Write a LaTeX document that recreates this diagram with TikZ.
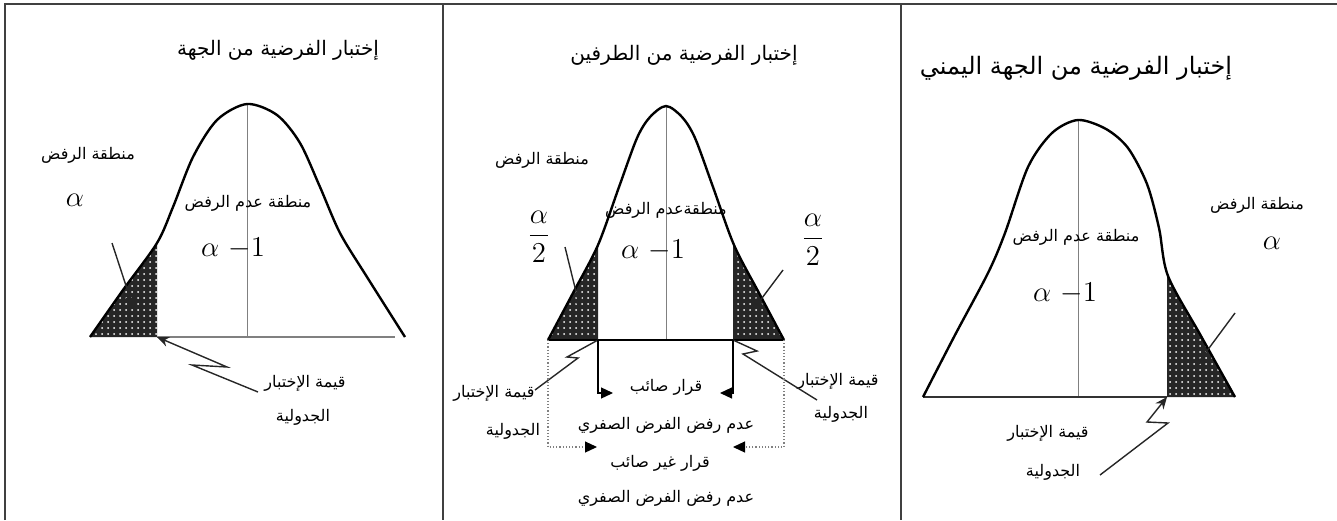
\documentclass[tikz,border=0pt]{standalone}
\usepackage{fontspec}
\newfontfamily\arabicfont[Script=Arabic]{DejaVu Sans}
\TeXXeTstate=1
\usetikzlibrary{patterns,arrows.meta}
\newcommand{\artxt}[1]{{\arabicfont\beginR #1\endR}}

\tikzset{
  frame/.style={line width=0.8pt,black!75},
  curve/.style={line width=1.2pt},
  midline/.style={gray,line width=0.4pt},
  tailfill/.style={fill=black!85},
  tailtex/.style={pattern=dots,pattern color=white},
  lbl/.style={font=\fontsize{8}{10}\selectfont},
  ttl/.style={font=\fontsize{10}{12}\selectfont},
  mth/.style={font=\fontsize{14}{16}\selectfont},
  call/.style={line width=0.7pt,black!85},
  tip/.style={-{Stealth[length=6pt,width=5pt]}},
  brk/.style={line width=0.6pt,-{Triangle[length=6pt,width=5.5pt]}},
  dotbrk/.style={gray,densely dotted,line width=0.6pt,-{Triangle[length=6pt,width=5.5pt,color=black]}},
}

% the three bell curves, in pixel coordinates
\def\bellA{plot[smooth] coordinates {(90,337) (123,290) (157,243) (173,207) (193,157) (217,120) (247,104) (277,115) (300,143) (320,187) (340,233) (367,277) (405,337)}}
\def\bellB{plot[smooth] coordinates {(548,340) (573,293) (598,245) (619,187) (637,138) (650,117) (666,106) (682,117) (695,138) (713,187) (734,245) (759,293) (784,340)}}
\def\bellC{plot[smooth] coordinates {(923,397) (955,335) (988,273) (1005,233) (1028,167) (1052,133) (1078,120) (1106,129) (1128,148) (1147,184) (1159,228) (1168,276) (1201,336) (1235,397)}}

\begin{document}
\begin{tikzpicture}[x=0.5pt,y=-0.5pt,>=stealth]
\useasboundingbox (0,0) rectangle (1337,520);

% frame
\draw[frame] (5,520) -- (5,4) -- (1337,4);
\draw[frame] (443,4) -- (443,520);
\draw[frame] (901,4) -- (901,520);

% ---------- left tail ----------
\coordinate (c1) at (157,337);
\begin{scope}
  \clip (0,0) rectangle (c1);
  \fill[tailfill] \bellA -- cycle;
  \fill[tailtex] \bellA -- cycle;
\end{scope}
\draw[midline] (247,104) -- (247,337);
\draw[gray,line width=1.2pt] (c1) -- (395,337);
\draw[curve] \bellA;

\node[ttl] (t1) at (278,50) {\artxt{إختبار الفرضية من الجهة}};
\node[lbl] (r1) at (88,155) {\artxt{منطقة الرفض}};
\node[mth] (a1) at (75,200) {$\alpha$};
\node[lbl] (n1) at (248,203) {\artxt{منطقة عدم الرفض}};
\node[mth] (m1) at (233,248) {$\alpha\ {-1}$};
\node[lbl] (q1) at (305,383) {\artxt{قيمة الإختبار}};
\node[lbl] (j1) at (303,417) {\artxt{الجدولية}};

\coordinate (s1) at (112,243);
\coordinate (e1) at (133,307);
\coordinate (f1) at (258,392);
\draw[call,tip] (s1) -- (e1);
\draw[call,tip] (f1) -- (192,365) -- (227,367) -- (c1);

% ---------- two tails ----------
\coordinate (c2l) at (598,340);
\coordinate (c2r) at (733,340);
\coordinate (e2l) at (548,340);
\coordinate (e2r) at (784,340);
\begin{scope}
  \clip (440,0) rectangle (c2l);
  \fill[tailfill] \bellB -- cycle;
  \fill[tailtex] \bellB -- cycle;
\end{scope}
\begin{scope}
  \clip (c2r) rectangle (900,0);
  \fill[tailfill] \bellB -- cycle;
  \fill[tailtex] \bellB -- cycle;
\end{scope}
\draw[midline] (666,106) -- (666,340);
\draw[line width=0.8pt] (e2l) -- (e2r);
\draw[curve] \bellB;

\node[ttl] (t2) at (684,55) {\artxt{إختبار الفرضية من الطرفين}};
\node[lbl] (r2) at (542,160) {\artxt{منطقة الرفض}};
\node[mth] (a2l) at (539,237) {$\displaystyle\frac{\alpha}{2}$};
\node[mth] (a2r) at (813,240) {$\displaystyle\frac{\alpha}{2}$};
\node[lbl] (n2) at (666,210) {\artxt{منطقةعدم الرفض}};
\node[mth] (m2) at (653,250) {$\alpha\ {-1}$};
\node[lbl] (q2l) at (494,393) {\artxt{قيمة الإختبار}};
\node[lbl] (j2l) at (513,431) {\artxt{الجدولية}};
\node[lbl] (q2r) at (838,381) {\artxt{قيمة الإختبار}};
\node[lbl] (j2r) at (841,414) {\artxt{الجدولية}};
\node[lbl] (d1) at (666,387) {\artxt{قرار صائب}};
\node[lbl] (d2) at (666,425) {\artxt{عدم رفض الفرض الصفري}};
\node[lbl] (d3) at (660,463) {\artxt{قرار غير صائب}};
\node[lbl] (d4) at (666,498) {\artxt{عدم رفض الفرض الصفري}};

\coordinate (s2l) at (565,247);
\coordinate (e2a) at (580,308);
\coordinate (s2r) at (783,270);
\coordinate (e2b) at (753,310);
\draw[call,tip] (s2l) -- (e2a);
\draw[call,tip] (s2r) -- (e2b);
\coordinate (f2l) at (535,390);
\coordinate (f2r) at (817,400);
\draw[call] (f2l) -- (578,358) -- (567,357) -- (c2l);
\draw[call] (f2r) -- (743,354) -- (757,351) -- (c2r);

\coordinate (b2l) at (613,393);
\coordinate (b2r) at (720,393);
\coordinate (g2l) at (597,447);
\coordinate (g2r) at (733,447);
\draw[brk] (c2l) |- (b2l);
\draw[brk] (c2r) |- (b2r);
\draw[dotbrk] (e2l) |- (g2l);
\draw[dotbrk] (e2r) |- (g2r);

% ---------- right tail ----------
\coordinate (c3) at (1167,397);
\begin{scope}
  \clip (c3) rectangle (1337,0);
  \fill[tailfill] \bellC -- cycle;
  \fill[tailtex] \bellC -- cycle;
\end{scope}
\draw[midline] (1078,120) -- (1078,397);
\draw[line width=1.2pt,black!80] (923,397) -- (c3);
\draw[curve] \bellC;

\node[ttl,font=\fontsize{12}{14}\selectfont] (t3) at (1076,68) {\artxt{إختبار الفرضية من الجهة اليمني}};
\node[lbl] (r3) at (1257,205) {\artxt{منطقة الرفض}};
\node[mth] (a3) at (1272,243) {$\alpha$};
\node[lbl] (n3) at (1076,237) {\artxt{منطقة عدم الرفض}};
\node[mth] (m3) at (1065,293) {$\alpha\ {-1}$};
\node[lbl] (q3) at (1048,433) {\artxt{قيمة الإختبار}};
\node[lbl] (j3) at (1053,472) {\artxt{الجدولية}};

\coordinate (s3) at (1235,313);
\coordinate (e3) at (1195,367);
\coordinate (f3) at (1100,475);
\draw[call,tip] (s3) -- (e3);
\draw[call,tip] (f3) -- (1168,423) -- (1147,422) -- (c3);
\end{tikzpicture}
\end{document}
